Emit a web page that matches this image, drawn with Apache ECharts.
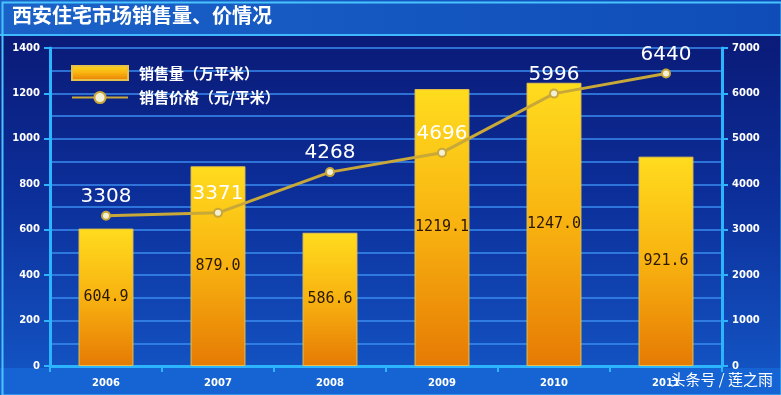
<!DOCTYPE html>
<html><head><meta charset="utf-8">
<script src="https://cdn.jsdelivr.net/npm/echarts@6/dist/echarts.min.js"></script>
<style>html,body{margin:0;padding:0;background:#0b2a8a}#c{width:781px;height:395px}</style>
</head><body><div id="c"></div>
<script>
const years = ['2006','2007','2008','2009','2010','2011'];
const salesVolume = [604.9, 879.0, 586.6, 1219.1, 1247.0, 921.6];
const salesPrice = [3308, 3371, 4268, 4696, 5996, 6440];
const titleText = '西安住宅市场销售量、价情况';
const volumeName = '销售量（万平米）';
const priceName = '销售价格（元/平米）';

const chart = echarts.init(document.getElementById('c'));
const cnFont = '"Noto Sans CJK SC", sans-serif';
const plain = v => String(v);
chart.setOption({
  backgroundColor: new echarts.graphic.LinearGradient(0,0,0,1,[
    {offset:0,color:'#0a1670'},{offset:0.5,color:'#0c2f9a'},{offset:1,color:'#1458c8'}]),
  animation:false,
  graphic:[
    {type:'rect',left:0,top:0,shape:{width:781,height:35},style:{fill:new echarts.graphic.LinearGradient(0,0,1,0,[{offset:0,color:'#1a62c8'},{offset:1,color:'#0f4cb8'}])},z:-1},
    {type:'rect',left:0,top:34,shape:{width:781,height:2},style:{fill:'#3fb8ff'},z:0},
    {type:'rect',left:0,top:368,shape:{width:781,height:27},style:{fill:'#1664d4'},z:-1},
    {type:'rect',left:0,top:0,shape:{width:779,height:393},style:{fill:null,stroke:'#49c4ff',lineWidth:2},z:10},
    {type:'text',left:12,top:5,style:{text:titleText,fill:'#ffffff',font:'bold 20px "Noto Sans CJK SC"'},z:5},
    {type:'text',right:8,top:372,style:{text:'头条号 / 莲之雨',fill:'#ffffff',font:'15px "Noto Sans CJK SC"'},z:5}
  ],
  legend:{
    orient:'vertical',left:66,top:60,itemWidth:56,itemHeight:14,itemGap:9,
    textStyle:{color:'#ffffff',fontSize:15,fontWeight:'bold',fontFamily:cnFont,padding:[0,0,0,6]},
    data:[{name:volumeName,icon:'rect'},{name:priceName}]
  },
  grid:{left:50,right:59,top:48,bottom:29},
  xAxis:{
    type:'category',data:years,
    axisLine:{lineStyle:{color:'#2cb4ff',width:3}},
    axisTick:{show:true,length:6,lineStyle:{color:'#2cb4ff',width:2}},
    axisLabel:{color:'#ffffff',fontWeight:'bold',fontSize:10,fontFamily:'DejaVu Sans',margin:12}
  },
  yAxis:[
    {type:'value',min:0,max:1400,interval:200,
     axisLine:{show:true,lineStyle:{color:'#2cb4ff',width:3}},
     axisTick:{show:true,length:6,lineStyle:{color:'#2cb4ff',width:2}},
     axisLabel:{color:'#ffffff',fontWeight:'bold',fontSize:10,fontFamily:'DejaVu Sans',margin:10,formatter:plain},
     splitLine:{show:true,lineStyle:{color:'#3a8cf0',width:1.5}},
     minorTick:{show:false,splitNumber:2},
     minorSplitLine:{show:true,lineStyle:{color:'#3a8cf0',width:1.5}}
    },
    {type:'value',min:0,max:7000,interval:1000,
     axisLine:{show:true,lineStyle:{color:'#2cb4ff',width:3}},
     axisTick:{show:true,length:6,lineStyle:{color:'#2cb4ff',width:2}},
     axisLabel:{color:'#ffffff',fontWeight:'bold',fontSize:10,fontFamily:'DejaVu Sans',margin:10,formatter:plain},
     splitLine:{show:false}
    }
  ],
  series:[
    {name:volumeName,type:'bar',yAxisIndex:0,data:salesVolume,barWidth:'49%',
     itemStyle:{color:new echarts.graphic.LinearGradient(0,0,0,1,[{offset:0,color:'#ffdc1e'},{offset:0.5,color:'#f8b210'},{offset:1,color:'#e67a04'}]),borderColor:'#e6c24a',borderWidth:1},
     label:{show:true,position:'inside',color:'#2a1800',fontSize:15,fontFamily:'DejaVu Sans Mono',
       formatter:p=>p.value.toFixed(1)}
    },
    {name:priceName,type:'line',yAxisIndex:1,data:salesPrice,
     lineStyle:{color:'#c8a838',width:3},
     itemStyle:{color:'#f4f0d8',borderColor:'#c8a838',borderWidth:2},
     symbol:'circle',symbolSize:8,
     label:{show:true,position:'top',distance:4,color:'#ffffff',fontSize:20,fontFamily:'DejaVu Sans'}
    }
  ]
});
</script></body></html>
